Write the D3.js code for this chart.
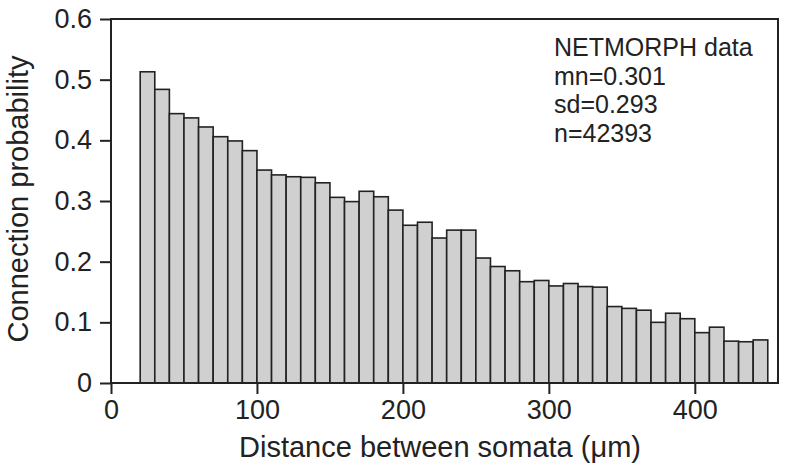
<!DOCTYPE html>
<html>
<head>
<meta charset="utf-8">
<script src="https://cdn.jsdelivr.net/npm/d3@7"></script>
<style>
  body { margin: 0; background: #fff; }
  svg { display: block; font-family: "Liberation Sans", Arial, sans-serif; }
</style>
</head>
<body>
<div id="chart"></div>
<script>
// histogram bins (left edge, um), width 10
var binStarts = [20, 30, 40, 50, 60, 70, 80, 90, 100, 110, 120, 130, 140, 150, 160, 170, 180, 190,
  200, 210, 220, 230, 240, 250, 260, 270, 280, 290, 300, 310, 320, 330, 340, 350, 360, 370, 380,
  390, 400, 410, 420, 430, 440];
var binWidth = 10;
var probs = [0.513, 0.484, 0.444, 0.437, 0.422, 0.406, 0.399, 0.383, 0.351, 0.343, 0.340, 0.339,
  0.330, 0.306, 0.299, 0.316, 0.307, 0.285, 0.260, 0.265, 0.239, 0.252, 0.252, 0.206, 0.192,
  0.185, 0.167, 0.169, 0.160, 0.164, 0.159, 0.158, 0.126, 0.123, 0.120, 0.100, 0.115, 0.106,
  0.083, 0.092, 0.069, 0.068, 0.071];
var xTicks = [0, 100, 200, 300, 400];
var yTicks = [0, 0.1, 0.2, 0.3, 0.4, 0.5, 0.6];
var statsLines = ["NETMORPH data", "mn=0.301", "sd=0.293", "n=42393"];

var width = 787, height = 472;
var margin = {left: 111, right: 9, top: 19, bottom: 89};
var w = width - margin.left - margin.right;
var h = height - margin.top - margin.bottom;

var svg = d3.select("#chart").append("svg")
    .attr("width", width)
    .attr("height", height);

var g = svg.append("g")
    .attr("transform", "translate(" + margin.left + "," + margin.top + ")");

var x = d3.scaleLinear().domain([0, 457]).range([0, w]);
var y = d3.scaleLinear().domain([0, 0.6]).range([h, 0]);

var data = binStarts.map(function(d, i) { return {x0: d, x1: d + binWidth, p: probs[i]}; });

g.selectAll("rect.bar")
    .data(data)
    .enter()
    .append("rect")
    .attr("class", "bar")
    .attr("x", function(d) { return x(d.x0); })
    .attr("y", function(d) { return y(d.p); })
    .attr("width", function(d) { return x(d.x1) - x(d.x0); })
    .attr("height", function(d) { return h - y(d.p); })
    .attr("fill", "#d0d0d0")
    .attr("stroke", "#222")
    .attr("stroke-width", 1.6);

// frame
g.append("rect")
    .attr("width", w)
    .attr("height", h)
    .attr("fill", "none")
    .attr("stroke", "#222")
    .attr("stroke-width", 2);

var xAxis = g.append("g")
    .attr("transform", "translate(0," + h + ")")
    .call(d3.axisBottom(x).tickValues(xTicks).tickSize(11).tickSizeOuter(0).tickPadding(6)
      .tickFormat(d3.format("d")));

var yAxis = g.append("g")
    .call(d3.axisLeft(y).tickValues(yTicks).tickSize(11).tickSizeOuter(0).tickPadding(8)
      .tickFormat(function(d) { return d === 0 ? "0" : d3.format(".1f")(d); }));

[xAxis, yAxis].forEach(function(a) {
  a.select(".domain").remove();
  a.selectAll(".tick line").attr("stroke", "#222").attr("stroke-width", 2);
  a.selectAll(".tick text").attr("fill", "#222").style("font-size", "27px")
    .style("font-family", "'Liberation Sans', Arial, sans-serif");
});

// axis titles
svg.append("text")
    .attr("x", 440)
    .attr("y", 457)
    .attr("text-anchor", "middle")
    .attr("fill", "#222")
    .style("font-size", "29px")
    .text("Distance between somata (\u03bcm)");

svg.append("text")
    .attr("transform", "translate(28,199) rotate(-90)")
    .attr("text-anchor", "middle")
    .attr("fill", "#222")
    .style("font-size", "29px")
    .text("Connection probability");

// stats box text
svg.append("g").selectAll("text")
    .data(statsLines)
    .enter()
    .append("text")
    .attr("x", 554)
    .attr("y", function(d, i) { return 56 + i * 28.5; })
    .attr("fill", "#222")
    .style("font-size", "25px")
    .text(function(d) { return d; });
</script>
</body>
</html>
